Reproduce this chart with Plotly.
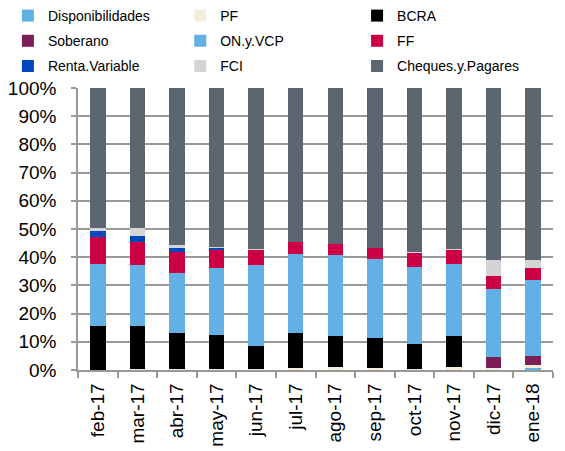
import plotly.graph_objects as go

months = ["feb-17", "mar-17", "abr-17", "may-17", "jun-17", "jul-17",
          "ago-17", "sep-17", "oct-17", "nov-17", "dic-17", "ene-18"]

disponibilidades = [0.0, 0.0, 0.0, 0.0, 0.0, 0.0, 0.0, 0.0, 0.0, 0.0, 0.2, 0.6]
pf = [0.0, 0.5, 0.5, 0.5, 0.5, 0.6, 0.9, 0.7, 0.5, 0.9, 0.4, 1.0]
bcra = [15.7, 15.1, 12.5, 11.9, 7.9, 12.6, 11.2, 10.6, 8.6, 11.1, 0.0, 0.0]
soberano = [0.0, 0.0, 0.0, 0.0, 0.0, 0.0, 0.0, 0.0, 0.0, 0.0, 3.9, 3.5]
on_vcp = [22.0, 21.6, 21.4, 23.8, 28.7, 27.8, 28.6, 28.0, 27.3, 25.7, 24.4, 26.8]
ff = [9.5, 8.2, 7.5, 6.7, 5.6, 4.4, 3.9, 4.0, 5.1, 5.0, 4.4, 4.3]
renta_variable = [2.1, 2.0, 1.2, 0.5, 0.1, 0.0, 0.0, 0.0, 0.0, 0.0, 0.0, 0.0]
fci = [1.0, 2.8, 1.2, 0.2, 0.2, 0.0, 0.0, 0.0, 0.5, 0.2, 5.8, 2.8]
cheques = [49.7, 49.8, 55.7, 56.4, 57.0, 54.6, 55.4, 56.7, 58.0, 57.1, 60.9, 61.0]

y_ticks = [0, 10, 20, 30, 40, 50, 60, 70, 80, 90, 100]
y_tick_labels = [f"{v}%" for v in y_ticks]

series = [
    ("Disponibilidades", disponibilidades, "#63b0e4"),
    ("PF", pf, "#f5ecdc"),
    ("BCRA", bcra, "#000000"),
    ("Soberano", soberano, "#7b1f57"),
    ("ON.y.VCP", on_vcp, "#63b0e4"),
    ("FF", ff, "#cc0044"),
    ("Renta.Variable", renta_variable, "#0047bb"),
    ("FCI", fci, "#d4d4d4"),
    ("Cheques.y.Pagares", cheques, "#5b6670"),
]

legend_names = ["legend", "legend2", "legend3"]
fig = go.Figure()
for i, (name, vals, color) in enumerate(series):
    fig.add_trace(go.Bar(x=months, y=vals, name=name,
                         marker=dict(color=color, line=dict(width=0)),
                         legend=legend_names[i % 3], legendgroup=name))

font = "Liberation Sans, Arial, sans-serif"
leg_common = dict(font=dict(family=font, size=14, color="#000000"), bgcolor="rgba(0,0,0,0)",
                  xref="container", yref="container", xanchor="left", yanchor="top",
                  tracegroupgap=4, itemwidth=30, traceorder="grouped")
fig.update_layout(
    barmode="stack",
    bargap=0.61,
    width=565, height=451,
    margin=dict(l=78, r=12, t=88, b=81, autoexpand=False),
    plot_bgcolor="white", paper_bgcolor="white",
    font=dict(family=font, size=19, color="#000000"),
    showlegend=True,
    legend=dict(x=0.014, y=1.0, **leg_common),
    legend2=dict(x=0.319, y=1.0, **leg_common),
    legend3=dict(x=0.632, y=1.0, **leg_common),
    xaxis=dict(type="category", showline=True, linecolor="#999999", linewidth=1.5,
               ticks="outside", tickson="boundaries", ticklen=6, tickcolor="#999999",
               tickwidth=1.5, tickangle=-90, tickfont=dict(size=19), showgrid=False,
               automargin=False, ticklabelstandoff=4),
    yaxis=dict(range=[0, 100], tickvals=y_ticks, ticktext=y_tick_labels, showline=True,
               linecolor="#999999", linewidth=1.5, ticks="outside", ticklen=5,
               tickcolor="#999999", tickwidth=1.5, gridcolor="#999999", gridwidth=1.5,
               tickfont=dict(size=19), zeroline=False, automargin=False,
               ticklabelstandoff=11),
)
fig.write_html("out.html", config={"displayModeBar": False},
               post_script="document.body.style.margin='0';document.body.style.padding='0';")
